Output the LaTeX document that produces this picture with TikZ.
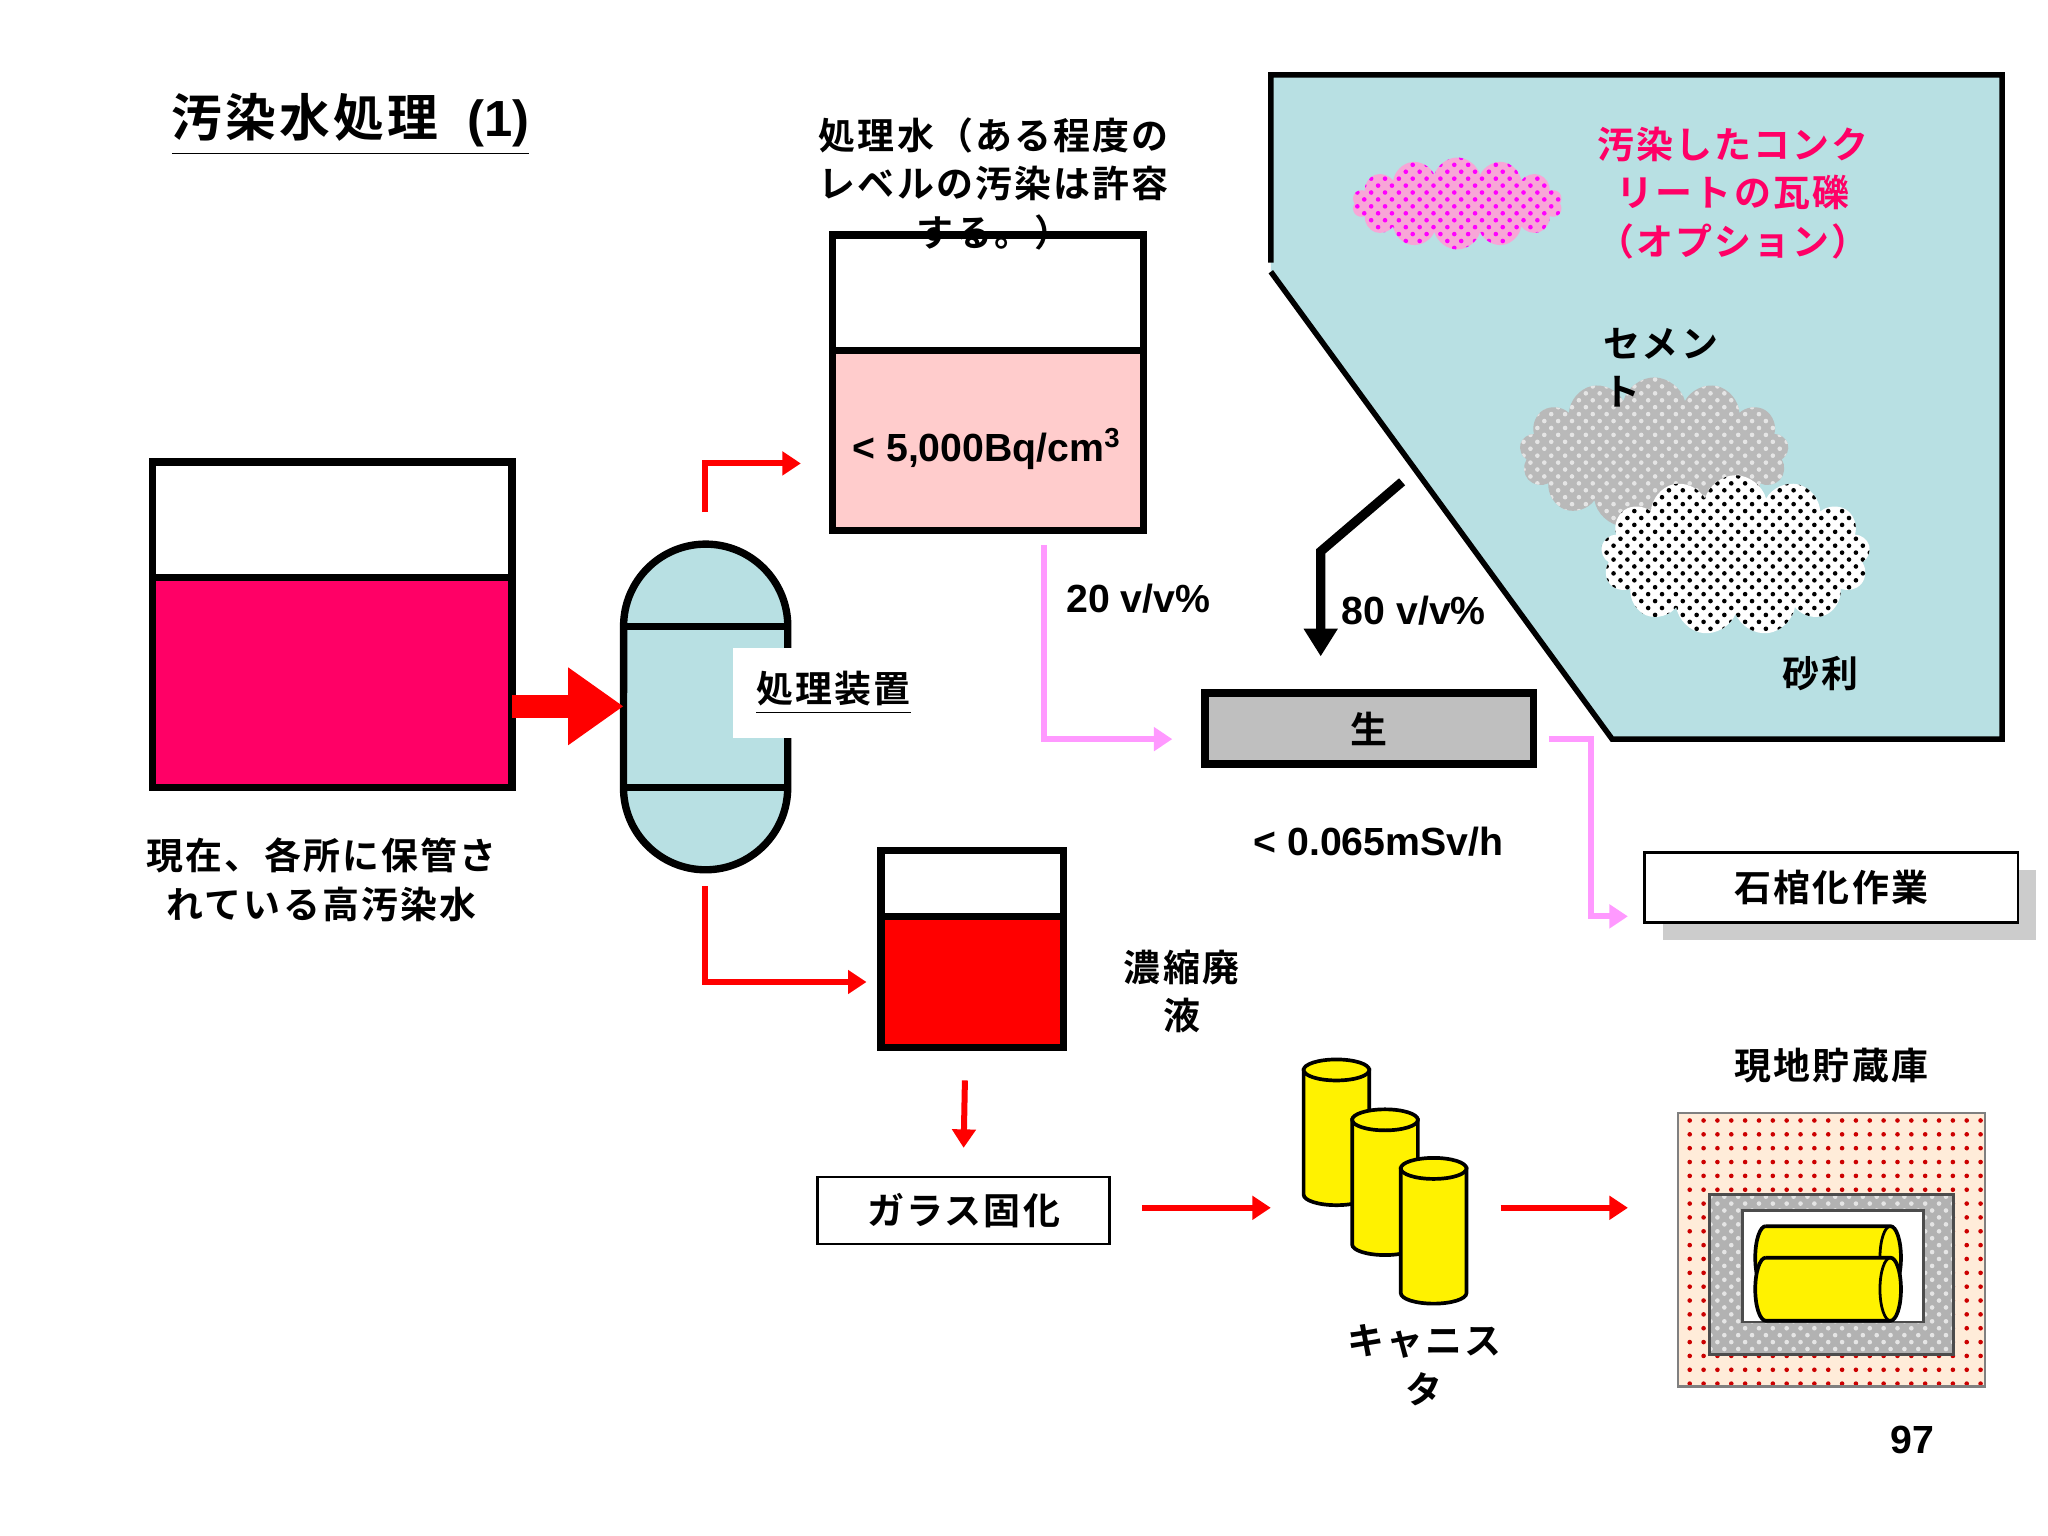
\documentclass[tikz,border=0pt]{standalone}
\usepackage{fontspec}
\setmainfont{Noto Sans CJK JP Bold}[LetterSpace=6]
\newfontfamily\lat{Liberation Sans}[BoldFont=* Bold]
\usetikzlibrary{shapes.symbols,patterns,arrows.meta}
\definecolor{hot}{HTML}{FF0066}
\definecolor{aqua}{HTML}{B8E0E3}
\definecolor{rose}{HTML}{FFCCCC}
\definecolor{pinkline}{HTML}{FF99FF}
\tikzset{
  txt/.style={font=\fontsize{8}{10.5}\selectfont, align=center, inner sep=0pt},
  num/.style={txt, font=\lat\bfseries\fontsize{8.5}{10.5}\selectfont},
  tank/.style={draw=black, line width=1.6pt},
  redarrow/.style={draw=red, line width=1.3pt, -{Triangle[length=4pt,width=5pt]}},
  pinkarrow/.style={draw=pinkline, line width=1.3pt, -{Triangle[length=4pt,width=5pt]}},
  labelbox/.style={draw=black, fill=white, line width=0.6pt, txt},
  puff/.style={cloud, cloud puffs=13, aspect=1.9, inner sep=0pt}
}
\newcommand{\canister}[3]{% x, y top, name
  \draw[line width=0.8pt, fill=yellow] (#1-25,#2) -- (#1-25,#2+95) arc[start angle=180,end angle=360,x radius=0.25cm,y radius=0.08cm] -- (#1+25,#2) -- cycle;
  \draw[line width=0.8pt, fill=yellow] (#1,#2) ellipse[x radius=0.25cm,y radius=0.08cm];
  \coordinate (#3) at (#1,#2+50);
}
\begin{document}
\begin{tikzpicture}[x=0.01cm,y=-0.01cm]
\useasboundingbox (0,0) rectangle (1560,1170);
% title
\node[txt, font=\fontsize{11}{13}\selectfont] (title) at (267,95) {\underline{汚染水処理\ \ {\lat\bfseries (1)}}};
% stored water tank
\fill[hot] (116,440) rectangle (390,600);
\draw[tank] (116,352) rectangle (390,600);
\draw[tank] (116,440) -- (390,440);
\coordinate (tankout) at (390,538);
\node[txt] (stored) at (245,670) {現在、各所に保管さ\\れている高汚染水};
% process vessel
\draw[tank, fill=aqua] (475,477) arc[start angle=180,end angle=0,radius=0.625cm] -- (600,600) arc[start angle=0,end angle=-180,radius=0.625cm] -- cycle;
\draw[tank] (475,477) -- (600,477) (475,600) -- (600,600);
\coordinate (vesselin) at (475,538);
\node[txt, fill=white, inner sep=5pt] (unit) at (635,528) {\underline{処理装置}};
\draw[red, line width=5pt, -{Triangle[length=12pt,width=16pt]}] (tankout) -- (vesselin);
% treated water
\fill[rose] (634,267) rectangle (871,404);
\draw[tank] (634,179) rectangle (871,404);
\draw[tank] (634,267) -- (871,267);
\node[num] (bq) at (752,342) {< 5,000Bq/cm\textsuperscript{3}};
\node[txt] (treated) at (757,140) {処理水（ある程度の\\レベルの汚染は許容\\する。）};
\coordinate (treatedin) at (610,353);
\draw[redarrow] (537,390) -- (537,353) -- (treatedin);
% rubble area
\fill[aqua] (968,57) -- (1525,57) -- (1525,563) -- (1228,563) -- (968,207) -- cycle;
\draw[line width=1.2pt] (968,200) -- (968,57) -- (1525,57) -- (1525,563) -- (1228,563) -- (968,207);
\node[txt, text=hot] (rubble) at (1320,147) {汚染したコンク\\リートの瓦礫\\（オプション）};
\node[puff, cloud puffs=14, aspect=2.3, fill=magenta!35, minimum width=1.6cm, minimum height=0.7cm] (pinkcloud) at (1110,155) {};
\node[puff, pattern=crosshatch dots, pattern color=magenta, minimum width=1.6cm, minimum height=0.7cm, cloud puffs=14, aspect=2.3] at (1110,155) {};
\node[puff, fill=gray!55, minimum width=2.05cm, minimum height=1.15cm] (cementcloud) at (1260,345) {};
\node[puff, pattern=crosshatch dots, pattern color=gray!20, minimum width=2.05cm, minimum height=1.15cm] at (1260,345) {};
\node[txt, align=left] (cement) at (1265,280) {セメン\\ト};
\node[puff, fill=white, minimum width=2.05cm, minimum height=1.22cm] (gravel) at (1322,423) {};
\node[puff, pattern=crosshatch dots, pattern color=black, minimum width=2.05cm, minimum height=1.22cm] at (1322,423) {};
\node[txt] (gravellbl) at (1387,513) {砂利};
% raw box
\node[tank, fill=gray!50, minimum width=2.5cm, minimum height=0.54cm, txt] (raw) at (1043,555) {生};
\draw[line width=2pt, -{Triangle[length=6pt,width=7pt]}] (1068,367) -- (1006,420) -- (1006,500);
\node[num] (eighty) at (1077,465) {80 v/v\%};
\draw[pinkarrow] (795,415) -- (795,563) -- (893,563);
\node[num] (twenty) at (867,456) {20 v/v\%};
\node[num] (dose) at (1050,641) {< 0.065mSv/h};
% sarcophagus
\fill[gray!40] (1267,663) rectangle (1551,716);
\node[labelbox, minimum width=2.84cm, minimum height=0.53cm] (sarc) at (1395,676) {石棺化作業};
\draw[pinkarrow] (1180,563) -- (1212,563) -- (1212,698) -- (1240,698);
% concentrated waste
\fill[red] (671,698) rectangle (810,798);
\draw[tank] (671,648) rectangle (810,798);
\draw[tank] (671,698) -- (810,698);
\node[txt] (waste) at (900,755) {濃縮廃\\液};
\draw[redarrow] (537,675) -- (537,748) -- (660,748);
\node[labelbox, minimum width=2.22cm, minimum height=0.51cm] (glass) at (734,922) {ガラス固化};
\draw[redarrow] (735,823) -- ([yshift=6pt]glass.north);
% canisters
\canister{1018}{815}{canA}
\canister{1055}{853}{canB}
\canister{1092}{890}{canC}
\node[txt] (canlbl) at (1085,1040) {キャニス\\タ};
\draw[redarrow] (870,920) -- (968,920);
% storage
\node[txt] (store) at (1395,812) {現地貯蔵庫};
\fill[orange!15] (1278,848) rectangle (1512,1056);
\fill[pattern=dots, pattern color=red!80!black] (1278,848) rectangle (1512,1056);
\draw[gray, line width=0.5pt] (1278,848) rectangle (1512,1056);
\fill[gray!60] (1302,910) rectangle (1488,1032);
\fill[pattern=crosshatch dots, pattern color=gray!20] (1302,910) rectangle (1488,1032);
\draw[black!70, line width=0.6pt] (1302,910) rectangle (1488,1032);
\fill[white] (1327,922) rectangle (1465,1007);
\draw[black!70, line width=0.6pt] (1327,922) rectangle (1465,1007);
\foreach \cy in {958,982} {
  \draw[fill=yellow, line width=0.8pt] (1345,\cy-24) -- (1440,\cy-24) arc[start angle=90,end angle=-90,x radius=0.08cm,y radius=0.24cm] -- (1345,\cy+24) arc[start angle=270,end angle=90,x radius=0.08cm,y radius=0.24cm];
  \draw[line width=0.6pt] (1440,\cy-24) arc[start angle=90,end angle=270,x radius=0.08cm,y radius=0.24cm];
}
\coordinate (storein) at (1240,920);
\draw[redarrow] (1143,920) -- (storein);
\node[num] (page) at (1457,1097) {97};
\end{tikzpicture}
\end{document}
